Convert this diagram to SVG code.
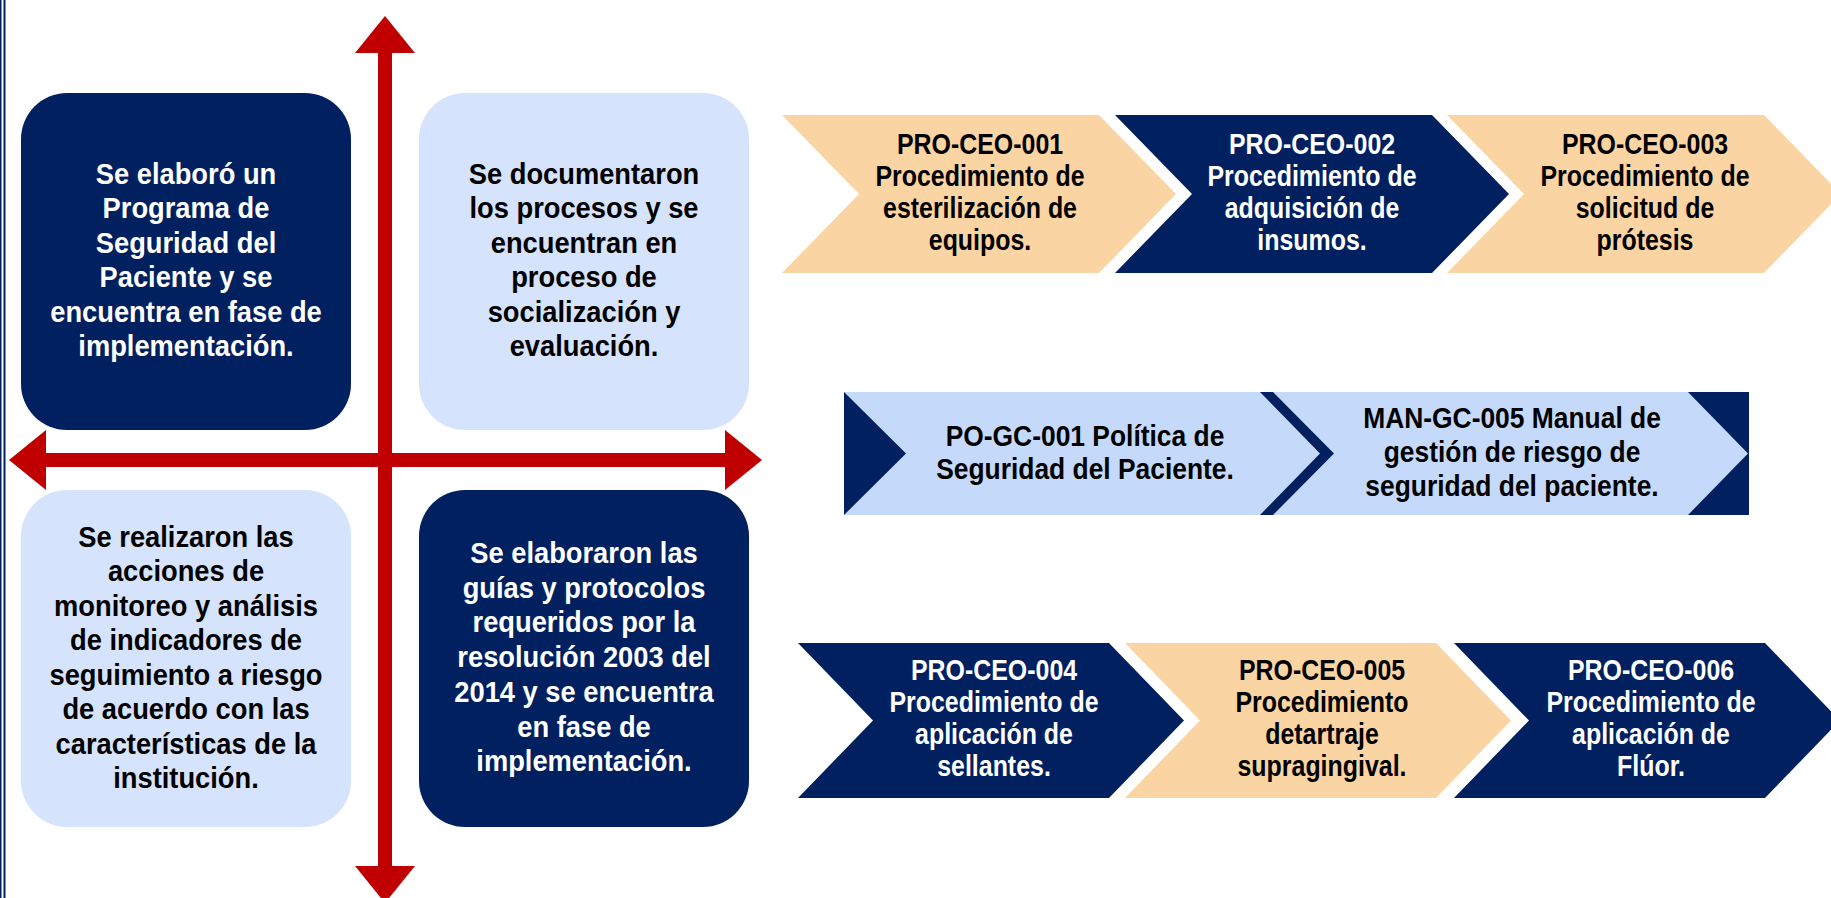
<svg xmlns="http://www.w3.org/2000/svg" width="1831" height="898" viewBox="0 0 1831 898">
<style>
.t{font-family:"Liberation Sans",Arial,sans-serif;font-weight:bold;text-anchor:middle}
.w{fill:#FFFFFF}.k{fill:#000000}
.navy{fill:#002060}.peach{fill:#FBD4A4}.light{fill:#D6E3FC}.light2{fill:#C5D9FA}
.red{fill:#C00000}
</style>
<rect width="1831" height="898" fill="#FFFFFF"/>
<g id="border">
<rect x="0" y="0" width="1.5" height="898" class="navy"/>
<rect x="3.5" y="0" width="2" height="898" class="navy"/>
</g>

<g id="connectors">
<rect x="378" y="50" width="14" height="820" class="red"/>
<rect x="43" y="453" width="686" height="14" class="red"/>
<polygon points="385,16 415,53 355,53" class="red"/>
<polygon points="385,903 415,866 355,866" class="red"/>
<polygon points="9,460 46,430 46,490" class="red"/>
<polygon points="762,460 725,430 725,490" class="red"/>
</g>

<g id="box-top-left">
<rect x="21" y="93" width="330" height="337" rx="46" class="navy"/>
<g transform="translate(186 0) scale(0.91 1)">
<text class="t w" font-size="30"><tspan x="0" y="184">Se elaboró un</tspan><tspan x="0" y="218.5">Programa de</tspan><tspan x="0" y="253">Seguridad del</tspan><tspan x="0" y="287.5">Paciente y se</tspan><tspan x="0" y="322">encuentra en fase de</tspan><tspan x="0" y="356.5">implementación.</tspan></text>
</g>
</g>

<g id="box-top-right">
<rect x="419" y="93" width="330" height="337" rx="46" class="light"/>
<g transform="translate(584 0) scale(0.91 1)">
<text class="t k" font-size="30"><tspan x="0" y="184">Se documentaron</tspan><tspan x="0" y="218.5">los procesos y se</tspan><tspan x="0" y="253">encuentran en</tspan><tspan x="0" y="287.5">proceso de</tspan><tspan x="0" y="322">socialización y</tspan><tspan x="0" y="356.5">evaluación.</tspan></text>
</g>
</g>

<g id="box-bottom-left">
<rect x="21" y="490" width="330" height="337" rx="46" class="light"/>
<g transform="translate(186 0) scale(0.91 1)">
<text class="t k" font-size="30"><tspan x="0" y="547">Se realizaron las</tspan><tspan x="0" y="581.5">acciones de</tspan><tspan x="0" y="616">monitoreo y análisis</tspan><tspan x="0" y="650.5">de indicadores de</tspan><tspan x="0" y="685">seguimiento a riesgo</tspan><tspan x="0" y="719.5">de acuerdo con las</tspan><tspan x="0" y="754">características de la</tspan><tspan x="0" y="788.5">institución.</tspan></text>
</g>
</g>

<g id="box-bottom-right">
<rect x="419" y="490" width="330" height="337" rx="46" class="navy"/>
<g transform="translate(584 0) scale(0.91 1)">
<text class="t w" font-size="30"><tspan x="0" y="563">Se elaboraron las</tspan><tspan x="0" y="597.8">guías y protocolos</tspan><tspan x="0" y="632.5">requeridos por la</tspan><tspan x="0" y="667.3">resolución 2003 del</tspan><tspan x="0" y="702">2014 y se encuentra</tspan><tspan x="0" y="736.8">en fase de</tspan><tspan x="0" y="771.5">implementación.</tspan></text>
</g>
</g>

<g id="pro-ceo-001">
<polygon points="782,115 1099,115 1176,194 1099,273 782,273 859,194" class="peach"/>
<g transform="translate(980 0) scale(0.86 1)">
<text class="t k" font-size="29"><tspan x="0" y="154">PRO-CEO-001</tspan><tspan x="0" y="186">Procedimiento de</tspan><tspan x="0" y="218">esterilización de</tspan><tspan x="0" y="250">equipos.</tspan></text>
</g>
</g>

<g id="pro-ceo-002">
<polygon points="1115,115 1432,115 1509,194 1432,273 1115,273 1192,194" class="navy"/>
<g transform="translate(1312 0) scale(0.86 1)">
<text class="t w" font-size="29"><tspan x="0" y="154">PRO-CEO-002</tspan><tspan x="0" y="186">Procedimiento de</tspan><tspan x="0" y="218">adquisición de</tspan><tspan x="0" y="250">insumos.</tspan></text>
</g>
</g>

<g id="pro-ceo-003">
<polygon points="1447,115 1764,115 1841,194 1764,273 1447,273 1524,194" class="peach"/>
<g transform="translate(1645 0) scale(0.86 1)">
<text class="t k" font-size="29"><tspan x="0" y="154">PRO-CEO-003</tspan><tspan x="0" y="186">Procedimiento de</tspan><tspan x="0" y="218">solicitud de</tspan><tspan x="0" y="250">prótesis</tspan></text>
</g>
</g>

<g id="politica-manual">
<rect x="844" y="392" width="905" height="123" class="navy"/>
</g>
<g id="po-gc-001">
<polygon points="844,392 1260,392 1320,453.5 1260,515 844,515 906,453.5" class="light2"/>
<g transform="translate(1085 0) scale(0.88 1)">
<text class="t k" font-size="30"><tspan x="0" y="446">PO-GC-001 Política de</tspan><tspan x="0" y="479">Seguridad del Paciente.</tspan></text>
</g>
</g>
<g id="man-gc-005">
<polygon points="1273,392 1688,392 1748,453.5 1688,515 1273,515 1334,453.5" class="light2"/>
<g transform="translate(1512 0) scale(0.88 1)">
<text class="t k" font-size="30"><tspan x="0" y="428">MAN-GC-005 Manual de</tspan><tspan x="0" y="462">gestión de riesgo de</tspan><tspan x="0" y="496">seguridad del paciente.</tspan></text>
</g>
</g>

<g id="pro-ceo-004">
<polygon points="798,643 1109,643 1184,720.5 1109,798 798,798 873,720.5" class="navy"/>
<g transform="translate(994 0) scale(0.86 1)">
<text class="t w" font-size="29"><tspan x="0" y="680">PRO-CEO-004</tspan><tspan x="0" y="712">Procedimiento de</tspan><tspan x="0" y="744">aplicación de</tspan><tspan x="0" y="776">sellantes.</tspan></text>
</g>
</g>

<g id="pro-ceo-005">
<polygon points="1125,643 1436,643 1511,720.5 1436,798 1125,798 1200,720.5" class="peach"/>
<g transform="translate(1322 0) scale(0.86 1)">
<text class="t k" font-size="29"><tspan x="0" y="680">PRO-CEO-005</tspan><tspan x="0" y="712">Procedimiento</tspan><tspan x="0" y="744">detartraje</tspan><tspan x="0" y="776">supragingival.</tspan></text>
</g>
</g>

<g id="pro-ceo-006">
<polygon points="1454,643 1765,643 1840,720.5 1765,798 1454,798 1529,720.5" class="navy"/>
<g transform="translate(1651 0) scale(0.86 1)">
<text class="t w" font-size="29"><tspan x="0" y="680">PRO-CEO-006</tspan><tspan x="0" y="712">Procedimiento de</tspan><tspan x="0" y="744">aplicación de</tspan><tspan x="0" y="776">Flúor.</tspan></text>
</g>
</g>
</svg>
